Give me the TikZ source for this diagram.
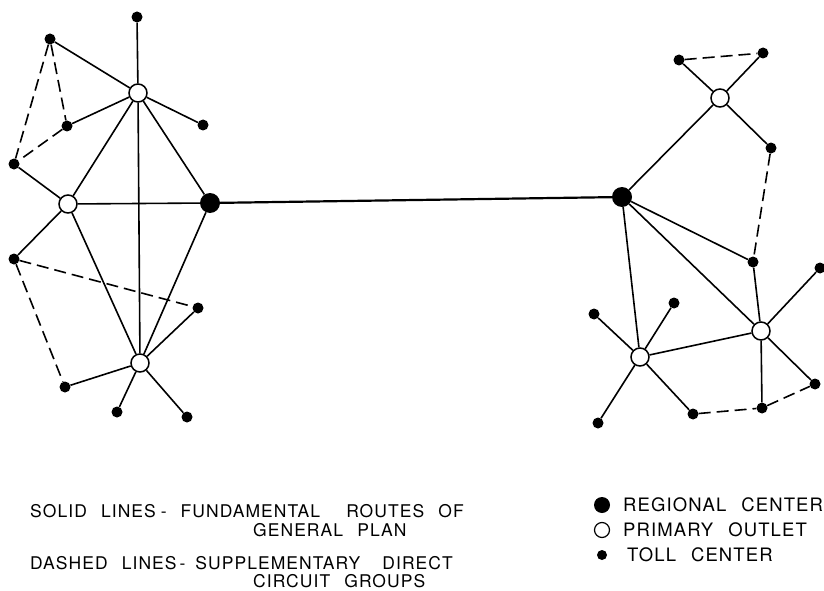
\documentclass[tikz,border=0pt]{standalone}
\usepackage{fontspec}
\newfontfamily\legendfont{TeX Gyre Heros}[LetterSpace=6,WordSpace=2.4]
\begin{document}
\begin{tikzpicture}[x=1pt,y=-1pt,
	toll/.style={circle,fill=black,inner sep=0pt,minimum size=11pt},
	outlet/.style={circle,draw=black,fill=white,line width=1.5pt,inner sep=0pt,minimum size=18pt},
	regional/.style={circle,fill=black,inner sep=0pt,minimum size=20pt},
	route/.style={line width=1.6pt},
	extra/.style={line width=1.6pt,dash pattern=on 12pt off 6pt},
	legtext/.style={anchor=west,inner sep=0pt,font=\legendfont\fontsize{17.5}{20}\selectfont},
	keytext/.style={anchor=west,inner sep=0pt,font=\legendfont\fontsize{18.5}{20}\selectfont}]
		\useasboundingbox (0,0) rectangle (824,591);
		% left group
		\node[regional] (regA) at (210,203) {};
		\node[outlet] (outA1) at (138,93) {};
		\node[outlet] (outA2) at (68,204) {};
		\node[outlet] (outA3) at (140,363) {};
		\node[toll] (tA1) at (137,17) {};
		\node[toll] (tA2) at (50,39) {};
		\node[toll] (tA3) at (67,126) {};
		\node[toll] (tA4) at (203,125) {};
		\node[toll] (tA5) at (14,164) {};
		\node[toll] (tA6) at (14,259) {};
		\node[toll] (tA7) at (198,308) {};
		\node[toll] (tA8) at (65,387) {};
		\node[toll] (tA9) at (117,412) {};
		\node[toll] (tA10) at (187,417) {};
		\draw[route] (tA1)--(outA1) (tA2)--(outA1) (tA3)--(outA1) (tA4)--(outA1)
			(outA1)--(outA2) (outA1)--(regA) (outA1)--(outA3);
		\draw[route] (tA5)--(outA2) (outA2)--(regA) (outA2)--(outA3) (outA2)--(tA6);
		\draw[route] (regA)--(outA3) (outA3)--(tA7) (outA3)--(tA8) (outA3)--(tA9) (outA3)--(tA10);
		\draw[extra] (tA2)--(tA5) (tA2)--(tA3) (tA3)--(tA5) (tA6)--(tA7) (tA6)--(tA8);
		% right group
		\node[regional] (regB) at (622,197) {};
		\node[outlet] (outB1) at (720,98) {};
		\node[outlet] (outB2) at (761,331) {};
		\node[outlet] (outB3) at (640,357) {};
		\node[toll] (tB1) at (679,60) {};
		\node[toll] (tB2) at (763,53) {};
		\node[toll] (tB3) at (771,148) {};
		\node[toll] (tB4) at (753,262) {};
		\node[toll] (tB5) at (820,268) {};
		\node[toll] (tB6) at (594,314) {};
		\node[toll] (tB7) at (674,303) {};
		\node[toll] (tB8) at (815,384) {};
		\node[toll] (tB9) at (693,414) {};
		\node[toll] (tB10) at (762,408) {};
		\node[toll] (tB11) at (598,423) {};
		\draw[route] (regB)--(outB1) (outB1)--(tB1) (outB1)--(tB2) (outB1)--(tB3);
		\draw[route] (regB)--(tB4) (regB)--(outB2) (regB)--(outB3) (tB4)--(outB2) (outB2)--(tB5)
			(outB2)--(outB3) (outB2)--(tB10) (outB2)--(tB8);
		\draw[route] (outB3)--(tB6) (outB3)--(tB7) (outB3)--(tB11) (outB3)--(tB9);
		\draw[extra] (tB1)--(tB2) (tB3)--(tB4) (tB9)--(tB10) (tB10)--(tB8);
		\draw[line width=2.2pt] (regA)--(regB);
		% legend
		\node[legtext] (solid) at (30,511) {SOLID LINES\hspace{5pt}-\hspace{14pt}FUNDAMENTAL\hspace{12pt} ROUTES OF};
		\node[legtext] (solid2) at (253,530) {GENERAL PLAN};
		\node[legtext] (dashed) at (30,563) {DASHED LINES\hspace{3pt}-\hspace{10pt}SUPPLEMENTARY\hspace{8pt} DIRECT};
		\node[legtext] (dashed2) at (253,581) {CIRCUIT GROUPS};
		\node[regional,minimum size=16pt] (keyReg) at (602,505) {};
		\node[outlet,minimum size=15pt,line width=1.2pt] (keyOut) at (602,530) {};
		\node[toll,minimum size=10pt] (keyToll) at (602,555) {};
		\node[keytext] (keyRegT) at (623,505) {REGIONAL CENTER};
		\node[keytext] (keyOutT) at (623,530) {PRIMARY OUTLET};
		\node[keytext] (keyTollT) at (627,555) {TOLL CENTER};
\end{tikzpicture}
\end{document}
